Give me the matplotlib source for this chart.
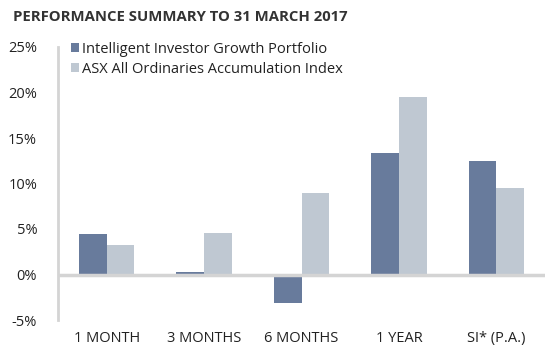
import numpy as np
import matplotlib
matplotlib.use('Agg')
import matplotlib.pyplot as plt
from matplotlib.ticker import FuncFormatter

plt.rcParams['font.family'] = ['Open Sans', 'DejaVu Sans']

# data (%)
periods = ['1 MONTH', '3 MONTHS', '6 MONTHS', '1 YEAR', 'SI* (P.A.)']
portfolio = [4.4, 0.3, -3.1, 13.4, 12.5]
index = [3.2, 4.6, 9.0, 19.5, 9.5]
series_names = ['Intelligent Investor Growth Portfolio',
                'ASX All Ordinaries Accumulation Index']
yticks = [-5, 0, 5, 10, 15, 20, 25]

dark = '#687b9c'
light = '#bfc8d2'
text_col = '#222222'

fig = plt.figure(figsize=(5.6, 3.56), dpi=100)
ax = fig.add_axes([58 / 560, 1 - 320 / 356, (545 - 58) / 560, (320 - 47) / 356])

x = np.arange(len(periods))
w = 0.285
ax.bar(x - w / 2, portfolio, w, color=dark, label=series_names[0], zorder=2)
ax.bar(x + w / 2, index, w, color=light, label=series_names[1], zorder=2)

ax.set_xlim(-0.5, len(periods) - 0.5)
ax.set_ylim(-5, 25)
ax.set_yticks(yticks)
ax.yaxis.set_major_formatter(FuncFormatter(lambda v, p: f'{v:.0f}%'))
ax.set_xticks(x)
ax.set_xticklabels(periods)
ax.tick_params(length=0, labelsize=10.5, colors=text_col)
ax.tick_params(axis='y', pad=15)
ax.tick_params(axis='x', pad=8)

for s in ['top', 'right', 'bottom']:
    ax.spines[s].set_visible(False)
ax.spines['left'].set_color('#d4d4d4')
ax.spines['left'].set_linewidth(2)
ax.axhline(0, color='#d4d4d4', lw=2.5, zorder=3)

ax.legend(loc='upper left', bbox_to_anchor=(0.015, 1.04), frameon=False,
          fontsize=10.5, handlelength=0.55, handleheight=0.55,
          handletextpad=0.2, labelspacing=0.35, borderaxespad=0,
          labelcolor=text_col)

fig.text(13 / 560, 1 - 17 / 356, 'PERFORMANCE SUMMARY TO 31 MARCH 2017',
         fontsize=10.7, fontweight='bold', color='#333333', va='center')

fig.savefig('out.png', dpi=100)
